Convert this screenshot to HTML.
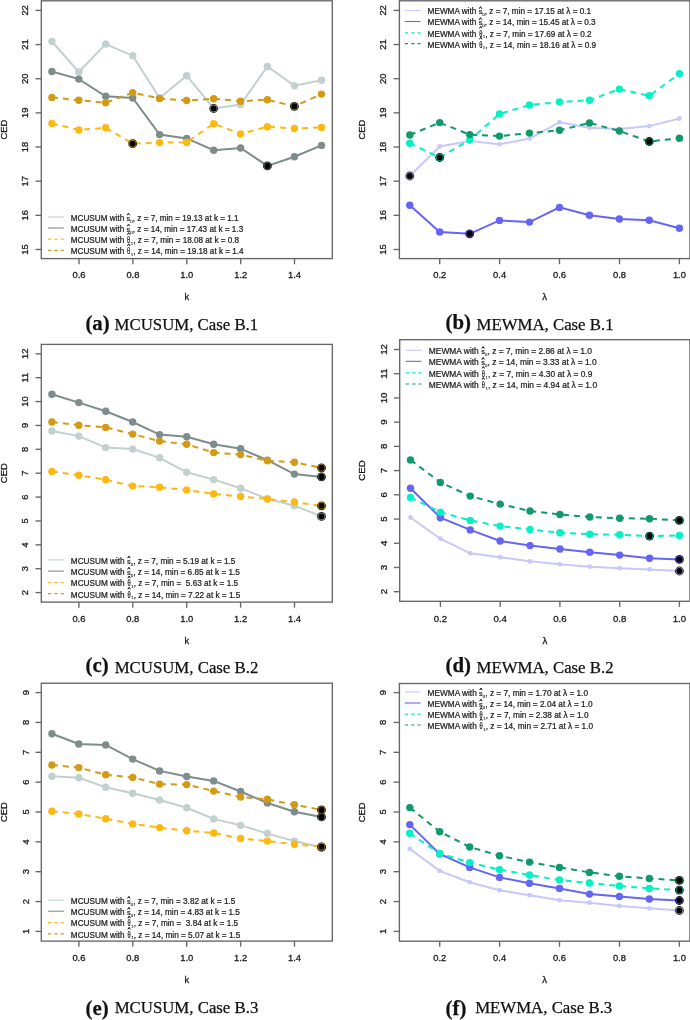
<!DOCTYPE html>
<html><head><meta charset="utf-8"><style>
html,body{margin:0;padding:0;background:#fff;}
svg{display:block;will-change:transform;filter:blur(0.3px);}
.t{font-family:"Liberation Sans",sans-serif;font-size:9.4px;fill:#1a1a1a;stroke:#1a1a1a;stroke-width:0.3px;}
.l{font-family:"Liberation Sans",sans-serif;font-size:8.27px;fill:#1a1a1a;stroke:#1a1a1a;stroke-width:0.22px;}
.c{font-family:"Liberation Serif",serif;font-size:16.8px;fill:#111;stroke:#111;stroke-width:0.25px;}
</style></head><body>
<svg width="690" height="1020" viewBox="0 0 690 1020">
<rect width="690" height="1020" fill="#fff"/>
<polyline points="51.9,41.5 78.8,72 105.7,44.1 132.7,55.7 159.6,98 186.7,75.7 213.7,108.5 240.6,104.6 267.4,66.5 294.4,85.7 321.5,80.2" fill="none" stroke="#c2d0d0" stroke-width="2"/>
<circle cx="51.9" cy="41.5" r="3.7" fill="#c2d0d0"/>
<circle cx="78.8" cy="72" r="3.7" fill="#c2d0d0"/>
<circle cx="105.7" cy="44.1" r="3.7" fill="#c2d0d0"/>
<circle cx="132.7" cy="55.7" r="3.7" fill="#c2d0d0"/>
<circle cx="159.6" cy="98" r="3.7" fill="#c2d0d0"/>
<circle cx="186.7" cy="75.7" r="3.7" fill="#c2d0d0"/>
<circle cx="213.7" cy="108.5" r="3.7" fill="#c2d0d0"/>
<circle cx="240.6" cy="104.6" r="3.7" fill="#c2d0d0"/>
<circle cx="267.4" cy="66.5" r="3.7" fill="#c2d0d0"/>
<circle cx="294.4" cy="85.7" r="3.7" fill="#c2d0d0"/>
<circle cx="321.5" cy="80.2" r="3.7" fill="#c2d0d0"/>
<polyline points="51.9,71.5 78.8,79.1 105.7,96.3 132.7,98 159.6,134.6 186.7,138.4 213.7,150.2 240.6,148 267.4,165.9 294.4,156.7 321.5,145.4" fill="none" stroke="#7e8c8c" stroke-width="2"/>
<circle cx="51.9" cy="71.5" r="3.7" fill="#7e8c8c"/>
<circle cx="78.8" cy="79.1" r="3.7" fill="#7e8c8c"/>
<circle cx="105.7" cy="96.3" r="3.7" fill="#7e8c8c"/>
<circle cx="132.7" cy="98" r="3.7" fill="#7e8c8c"/>
<circle cx="159.6" cy="134.6" r="3.7" fill="#7e8c8c"/>
<circle cx="186.7" cy="138.4" r="3.7" fill="#7e8c8c"/>
<circle cx="213.7" cy="150.2" r="3.7" fill="#7e8c8c"/>
<circle cx="240.6" cy="148" r="3.7" fill="#7e8c8c"/>
<circle cx="267.4" cy="165.9" r="3.7" fill="#7e8c8c"/>
<circle cx="294.4" cy="156.7" r="3.7" fill="#7e8c8c"/>
<circle cx="321.5" cy="145.4" r="3.7" fill="#7e8c8c"/>
<polyline points="51.9,123.5 78.8,130 105.7,127.8 132.7,143.7 159.6,142.6 186.7,142.4 213.7,123.7 240.6,133.9 267.4,126.7 294.4,128.5 321.5,127.4" fill="none" stroke="#fcb813" stroke-width="2" stroke-dasharray="6 5"/>
<circle cx="51.9" cy="123.5" r="3.7" fill="#fcb813"/>
<circle cx="78.8" cy="130" r="3.7" fill="#fcb813"/>
<circle cx="105.7" cy="127.8" r="3.7" fill="#fcb813"/>
<circle cx="132.7" cy="143.7" r="3.7" fill="#fcb813"/>
<circle cx="159.6" cy="142.6" r="3.7" fill="#fcb813"/>
<circle cx="186.7" cy="142.4" r="3.7" fill="#fcb813"/>
<circle cx="213.7" cy="123.7" r="3.7" fill="#fcb813"/>
<circle cx="240.6" cy="133.9" r="3.7" fill="#fcb813"/>
<circle cx="267.4" cy="126.7" r="3.7" fill="#fcb813"/>
<circle cx="294.4" cy="128.5" r="3.7" fill="#fcb813"/>
<circle cx="321.5" cy="127.4" r="3.7" fill="#fcb813"/>
<polyline points="51.9,97.4 78.8,100.2 105.7,102.8 132.7,92.6 159.6,98.5 186.7,100.5 213.7,98.7 240.6,101.3 267.4,99.8 294.4,106.3 321.5,94.1" fill="none" stroke="#d39b15" stroke-width="2" stroke-dasharray="6 5"/>
<circle cx="51.9" cy="97.4" r="3.7" fill="#d39b15"/>
<circle cx="78.8" cy="100.2" r="3.7" fill="#d39b15"/>
<circle cx="105.7" cy="102.8" r="3.7" fill="#d39b15"/>
<circle cx="132.7" cy="92.6" r="3.7" fill="#d39b15"/>
<circle cx="159.6" cy="98.5" r="3.7" fill="#d39b15"/>
<circle cx="186.7" cy="100.5" r="3.7" fill="#d39b15"/>
<circle cx="213.7" cy="98.7" r="3.7" fill="#d39b15"/>
<circle cx="240.6" cy="101.3" r="3.7" fill="#d39b15"/>
<circle cx="267.4" cy="99.8" r="3.7" fill="#d39b15"/>
<circle cx="294.4" cy="106.3" r="3.7" fill="#d39b15"/>
<circle cx="321.5" cy="94.1" r="3.7" fill="#d39b15"/>
<circle cx="213.7" cy="108.5" r="4.4" fill="#111"/><circle cx="213.7" cy="108.5" r="3.7" fill="#c2d0d0" fill-opacity="0.75"/><circle cx="213.7" cy="108.5" r="3.0" fill="#000"/>
<circle cx="267.4" cy="165.9" r="4.4" fill="#111"/><circle cx="267.4" cy="165.9" r="3.7" fill="#7e8c8c" fill-opacity="0.75"/><circle cx="267.4" cy="165.9" r="3.0" fill="#000"/>
<circle cx="132.7" cy="143.7" r="4.4" fill="#111"/><circle cx="132.7" cy="143.7" r="3.7" fill="#fcb813" fill-opacity="0.75"/><circle cx="132.7" cy="143.7" r="3.0" fill="#000"/>
<circle cx="294.4" cy="106.3" r="4.4" fill="#111"/><circle cx="294.4" cy="106.3" r="3.7" fill="#d39b15" fill-opacity="0.75"/><circle cx="294.4" cy="106.3" r="3.0" fill="#000"/>
<rect x="41.3" y="0.8" width="291" height="257.8" fill="none" stroke="#666" stroke-width="1.35"/>
<line x1="79" y1="258.6" x2="79" y2="264.2" stroke="#666" stroke-width="1.35"/>
<text x="79" y="278" class="t" text-anchor="middle">0.6</text>
<line x1="132.9" y1="258.6" x2="132.9" y2="264.2" stroke="#666" stroke-width="1.35"/>
<text x="132.9" y="278" class="t" text-anchor="middle">0.8</text>
<line x1="186.8" y1="258.6" x2="186.8" y2="264.2" stroke="#666" stroke-width="1.35"/>
<text x="186.8" y="278" class="t" text-anchor="middle">1.0</text>
<line x1="240.7" y1="258.6" x2="240.7" y2="264.2" stroke="#666" stroke-width="1.35"/>
<text x="240.7" y="278" class="t" text-anchor="middle">1.2</text>
<line x1="294.5" y1="258.6" x2="294.5" y2="264.2" stroke="#666" stroke-width="1.35"/>
<text x="294.5" y="278" class="t" text-anchor="middle">1.4</text>
<line x1="35.5" y1="249.5" x2="41.3" y2="249.5" stroke="#666" stroke-width="1.35"/>
<text transform="translate(28,249.5) rotate(-90)" class="t" text-anchor="middle">15</text>
<line x1="35.5" y1="215.34" x2="41.3" y2="215.34" stroke="#666" stroke-width="1.35"/>
<text transform="translate(28,215.34) rotate(-90)" class="t" text-anchor="middle">16</text>
<line x1="35.5" y1="181.18" x2="41.3" y2="181.18" stroke="#666" stroke-width="1.35"/>
<text transform="translate(28,181.18) rotate(-90)" class="t" text-anchor="middle">17</text>
<line x1="35.5" y1="147.03" x2="41.3" y2="147.03" stroke="#666" stroke-width="1.35"/>
<text transform="translate(28,147.03) rotate(-90)" class="t" text-anchor="middle">18</text>
<line x1="35.5" y1="112.87" x2="41.3" y2="112.87" stroke="#666" stroke-width="1.35"/>
<text transform="translate(28,112.87) rotate(-90)" class="t" text-anchor="middle">19</text>
<line x1="35.5" y1="78.71" x2="41.3" y2="78.71" stroke="#666" stroke-width="1.35"/>
<text transform="translate(28,78.71) rotate(-90)" class="t" text-anchor="middle">20</text>
<line x1="35.5" y1="44.56" x2="41.3" y2="44.56" stroke="#666" stroke-width="1.35"/>
<text transform="translate(28,44.56) rotate(-90)" class="t" text-anchor="middle">21</text>
<line x1="35.5" y1="10.4" x2="41.3" y2="10.4" stroke="#666" stroke-width="1.35"/>
<text transform="translate(28,10.4) rotate(-90)" class="t" text-anchor="middle">22</text>
<text x="186.8" y="300.3" class="t" text-anchor="middle">k</text>
<text transform="translate(6.9,129.7) rotate(-90)" class="t" text-anchor="middle">CED</text>
<line x1="48" y1="217" x2="63.8" y2="217" stroke="#c2d0d0" stroke-width="1.1"/>
<text x="70.8" y="220.8" class="l" style="font-size:8.17px">MCUSUM with <tspan dx="3.79" dy="1.8" style="font-size:4.4px;stroke-width:0.1px">0</tspan><tspan dy="-1.8">, z = 7, min = 19.13 at k = 1.1</tspan></text>
<text transform="translate(126.62,220.8) scale(1.0,1)" class="l" style="font-size:7.4px">s</text>
<path d="M127.22 215.28L128.47 213.18L129.72 215.28" fill="none" stroke="#000" stroke-width="0.95"/>
<line x1="48" y1="228" x2="63.8" y2="228" stroke="#7e8c8c" stroke-width="1.1"/>
<text x="70.8" y="231.8" class="l" style="font-size:8.17px">MCUSUM with <tspan dx="3.79" dy="1.8" style="font-size:4.4px;stroke-width:0.1px">0</tspan><tspan dy="-1.8">, z = 14, min = 17.43 at k = 1.3</tspan></text>
<text transform="translate(126.62,231.8) scale(1.0,1)" class="l" style="font-size:7.4px">s</text>
<path d="M127.22 226.28L128.47 224.18L129.72 226.28" fill="none" stroke="#000" stroke-width="0.95"/>
<line x1="48" y1="239.1" x2="63.8" y2="239.1" stroke="#fcb813" stroke-width="1.2" stroke-dasharray="3.3 3.1"/>
<text x="70.8" y="242.9" class="l" style="font-size:8.17px">MCUSUM with <tspan dx="4.24" dy="1.8" style="font-size:4.4px;stroke-width:0.1px">1</tspan><tspan dy="-1.8">, z = 7, min = 18.08 at k = 0.8</tspan></text>
<text transform="translate(127.12,242.9) scale(0.66,1)" class="l" style="font-size:8.6px">θ</text>
<path d="M127.45 234.71L128.7 232.61L129.95 234.71" fill="none" stroke="#000" stroke-width="0.95"/>
<line x1="48" y1="250.3" x2="63.8" y2="250.3" stroke="#d39b15" stroke-width="1.2" stroke-dasharray="3.3 3.1"/>
<text x="70.8" y="254.1" class="l" style="font-size:8.17px">MCUSUM with <tspan dx="4.24" dy="1.8" style="font-size:4.4px;stroke-width:0.1px">1</tspan><tspan dy="-1.8">, z = 14, min = 19.18 at k = 1.4</tspan></text>
<text transform="translate(127.12,254.1) scale(0.66,1)" class="l" style="font-size:8.6px">θ</text>
<path d="M127.45 245.91L128.7 243.81L129.95 245.91" fill="none" stroke="#000" stroke-width="0.95"/>
<text x="85.4" y="329.5" class="c" style="font-weight:bold;font-size:20.8px">(a)</text>
<text x="114.6" y="330.3" class="c">MCUSUM, Case B.1</text>
<polyline points="409.8,176 439.7,146.5 469.7,141.1 499.5,144.3 529.5,138.6 559.5,122.2 589.5,127.8 619.4,129.1 649.3,126.1 679.4,118.5" fill="none" stroke="#c8c8fa" stroke-width="2"/>
<circle cx="409.8" cy="176" r="2.4" fill="#c8c8fa"/>
<circle cx="439.7" cy="146.5" r="2.4" fill="#c8c8fa"/>
<circle cx="469.7" cy="141.1" r="2.4" fill="#c8c8fa"/>
<circle cx="499.5" cy="144.3" r="2.4" fill="#c8c8fa"/>
<circle cx="529.5" cy="138.6" r="2.4" fill="#c8c8fa"/>
<circle cx="559.5" cy="122.2" r="2.4" fill="#c8c8fa"/>
<circle cx="589.5" cy="127.8" r="2.4" fill="#c8c8fa"/>
<circle cx="619.4" cy="129.1" r="2.4" fill="#c8c8fa"/>
<circle cx="649.3" cy="126.1" r="2.4" fill="#c8c8fa"/>
<circle cx="679.4" cy="118.5" r="2.4" fill="#c8c8fa"/>
<polyline points="409.8,205.3 439.7,232 469.7,233.8 499.5,220.4 529.5,222.1 559.5,207.4 589.5,215.3 619.4,219 649.3,220.2 679.4,228.3" fill="none" stroke="#6464f5" stroke-width="2"/>
<circle cx="409.8" cy="205.3" r="3.7" fill="#6464f5"/>
<circle cx="439.7" cy="232" r="3.7" fill="#6464f5"/>
<circle cx="469.7" cy="233.8" r="3.7" fill="#6464f5"/>
<circle cx="499.5" cy="220.4" r="3.7" fill="#6464f5"/>
<circle cx="529.5" cy="222.1" r="3.7" fill="#6464f5"/>
<circle cx="559.5" cy="207.4" r="3.7" fill="#6464f5"/>
<circle cx="589.5" cy="215.3" r="3.7" fill="#6464f5"/>
<circle cx="619.4" cy="219" r="3.7" fill="#6464f5"/>
<circle cx="649.3" cy="220.2" r="3.7" fill="#6464f5"/>
<circle cx="679.4" cy="228.3" r="3.7" fill="#6464f5"/>
<polyline points="409.8,143.3 439.7,157.5 469.7,140 499.5,113.9 529.5,105 559.5,102 589.5,100.2 619.4,89.1 649.3,95.8 679.4,73.6" fill="none" stroke="#05f0c5" stroke-width="2" stroke-dasharray="6 5"/>
<circle cx="409.8" cy="143.3" r="3.7" fill="#05f0c5"/>
<circle cx="439.7" cy="157.5" r="3.7" fill="#05f0c5"/>
<circle cx="469.7" cy="140" r="3.7" fill="#05f0c5"/>
<circle cx="499.5" cy="113.9" r="3.7" fill="#05f0c5"/>
<circle cx="529.5" cy="105" r="3.7" fill="#05f0c5"/>
<circle cx="559.5" cy="102" r="3.7" fill="#05f0c5"/>
<circle cx="589.5" cy="100.2" r="3.7" fill="#05f0c5"/>
<circle cx="619.4" cy="89.1" r="3.7" fill="#05f0c5"/>
<circle cx="649.3" cy="95.8" r="3.7" fill="#05f0c5"/>
<circle cx="679.4" cy="73.6" r="3.7" fill="#05f0c5"/>
<polyline points="409.8,135 439.7,122.6 469.7,134.6 499.5,136.1 529.5,133.1 559.5,130.3 589.5,122.9 619.4,131 649.3,141.5 679.4,138.2" fill="none" stroke="#12996a" stroke-width="2" stroke-dasharray="6 5"/>
<circle cx="409.8" cy="135" r="3.7" fill="#12996a"/>
<circle cx="439.7" cy="122.6" r="3.7" fill="#12996a"/>
<circle cx="469.7" cy="134.6" r="3.7" fill="#12996a"/>
<circle cx="499.5" cy="136.1" r="3.7" fill="#12996a"/>
<circle cx="529.5" cy="133.1" r="3.7" fill="#12996a"/>
<circle cx="559.5" cy="130.3" r="3.7" fill="#12996a"/>
<circle cx="589.5" cy="122.9" r="3.7" fill="#12996a"/>
<circle cx="619.4" cy="131" r="3.7" fill="#12996a"/>
<circle cx="649.3" cy="141.5" r="3.7" fill="#12996a"/>
<circle cx="679.4" cy="138.2" r="3.7" fill="#12996a"/>
<circle cx="409.8" cy="176" r="4.4" fill="#111"/><circle cx="409.8" cy="176" r="3.7" fill="#c8c8fa" fill-opacity="0.75"/><circle cx="409.8" cy="176" r="3.0" fill="#000"/>
<circle cx="469.7" cy="233.8" r="4.4" fill="#111"/><circle cx="469.7" cy="233.8" r="3.7" fill="#6464f5" fill-opacity="0.75"/><circle cx="469.7" cy="233.8" r="3.0" fill="#000"/>
<circle cx="439.7" cy="157.5" r="4.4" fill="#111"/><circle cx="439.7" cy="157.5" r="3.7" fill="#05f0c5" fill-opacity="0.75"/><circle cx="439.7" cy="157.5" r="3.0" fill="#000"/>
<circle cx="649.3" cy="141.5" r="4.4" fill="#111"/><circle cx="649.3" cy="141.5" r="3.7" fill="#12996a" fill-opacity="0.75"/><circle cx="649.3" cy="141.5" r="3.0" fill="#000"/>
<rect x="399.4" y="0.8" width="290.5" height="257.8" fill="none" stroke="#666" stroke-width="1.35"/>
<line x1="439.7" y1="258.6" x2="439.7" y2="264.2" stroke="#666" stroke-width="1.35"/>
<text x="439.7" y="278" class="t" text-anchor="middle">0.2</text>
<line x1="499.6" y1="258.6" x2="499.6" y2="264.2" stroke="#666" stroke-width="1.35"/>
<text x="499.6" y="278" class="t" text-anchor="middle">0.4</text>
<line x1="559.5" y1="258.6" x2="559.5" y2="264.2" stroke="#666" stroke-width="1.35"/>
<text x="559.5" y="278" class="t" text-anchor="middle">0.6</text>
<line x1="619.5" y1="258.6" x2="619.5" y2="264.2" stroke="#666" stroke-width="1.35"/>
<text x="619.5" y="278" class="t" text-anchor="middle">0.8</text>
<line x1="679.4" y1="258.6" x2="679.4" y2="264.2" stroke="#666" stroke-width="1.35"/>
<text x="679.4" y="278" class="t" text-anchor="middle">1.0</text>
<line x1="393.6" y1="249.5" x2="399.4" y2="249.5" stroke="#666" stroke-width="1.35"/>
<text transform="translate(386,249.5) rotate(-90)" class="t" text-anchor="middle">15</text>
<line x1="393.6" y1="215.34" x2="399.4" y2="215.34" stroke="#666" stroke-width="1.35"/>
<text transform="translate(386,215.34) rotate(-90)" class="t" text-anchor="middle">16</text>
<line x1="393.6" y1="181.18" x2="399.4" y2="181.18" stroke="#666" stroke-width="1.35"/>
<text transform="translate(386,181.18) rotate(-90)" class="t" text-anchor="middle">17</text>
<line x1="393.6" y1="147.03" x2="399.4" y2="147.03" stroke="#666" stroke-width="1.35"/>
<text transform="translate(386,147.03) rotate(-90)" class="t" text-anchor="middle">18</text>
<line x1="393.6" y1="112.87" x2="399.4" y2="112.87" stroke="#666" stroke-width="1.35"/>
<text transform="translate(386,112.87) rotate(-90)" class="t" text-anchor="middle">19</text>
<line x1="393.6" y1="78.71" x2="399.4" y2="78.71" stroke="#666" stroke-width="1.35"/>
<text transform="translate(386,78.71) rotate(-90)" class="t" text-anchor="middle">20</text>
<line x1="393.6" y1="44.56" x2="399.4" y2="44.56" stroke="#666" stroke-width="1.35"/>
<text transform="translate(386,44.56) rotate(-90)" class="t" text-anchor="middle">21</text>
<line x1="393.6" y1="10.4" x2="399.4" y2="10.4" stroke="#666" stroke-width="1.35"/>
<text transform="translate(386,10.4) rotate(-90)" class="t" text-anchor="middle">22</text>
<text x="544.65" y="300.3" class="t" text-anchor="middle">λ</text>
<text transform="translate(364.5,129.7) rotate(-90)" class="t" text-anchor="middle">CED</text>
<line x1="404.8" y1="10.5" x2="420.6" y2="10.5" stroke="#c8c8fa" stroke-width="1.1"/>
<text x="427.6" y="14.3" class="l" style="font-size:8.2px">MEWMA with <tspan dx="3.8" dy="1.8" style="font-size:4.4px;stroke-width:0.1px">0</tspan><tspan dy="-1.8">, z = 7, min = 17.15 at λ = 0.1</tspan></text>
<text transform="translate(478.63,14.3) scale(1.0,1)" class="l" style="font-size:7.4px">s</text>
<path d="M479.23 8.78L480.48 6.68L481.73 8.78" fill="none" stroke="#000" stroke-width="0.95"/>
<line x1="404.8" y1="21.5" x2="420.6" y2="21.5" stroke="#6464f5" stroke-width="1.1"/>
<text x="427.6" y="25.3" class="l" style="font-size:8.2px">MEWMA with <tspan dx="3.8" dy="1.8" style="font-size:4.4px;stroke-width:0.1px">0</tspan><tspan dy="-1.8">, z = 14, min = 15.45 at λ = 0.3</tspan></text>
<text transform="translate(478.63,25.3) scale(1.0,1)" class="l" style="font-size:7.4px">s</text>
<path d="M479.23 19.78L480.48 17.68L481.73 19.78" fill="none" stroke="#000" stroke-width="0.95"/>
<line x1="404.8" y1="32.8" x2="420.6" y2="32.8" stroke="#05f0c5" stroke-width="1.2" stroke-dasharray="3.3 3.1"/>
<text x="427.6" y="36.6" class="l" style="font-size:8.2px">MEWMA with <tspan dx="4.26" dy="1.8" style="font-size:4.4px;stroke-width:0.1px">1</tspan><tspan dy="-1.8">, z = 7, min = 17.69 at λ = 0.2</tspan></text>
<text transform="translate(479.13,36.6) scale(0.66,1)" class="l" style="font-size:8.6px">θ</text>
<path d="M479.46 28.41L480.71 26.31L481.96 28.41" fill="none" stroke="#000" stroke-width="0.95"/>
<line x1="404.8" y1="43.7" x2="420.6" y2="43.7" stroke="#12996a" stroke-width="1.2" stroke-dasharray="3.3 3.1"/>
<text x="427.6" y="47.5" class="l" style="font-size:8.2px">MEWMA with <tspan dx="4.26" dy="1.8" style="font-size:4.4px;stroke-width:0.1px">1</tspan><tspan dy="-1.8">, z = 14, min = 18.16 at λ = 0.9</tspan></text>
<text transform="translate(479.13,47.5) scale(0.66,1)" class="l" style="font-size:8.6px">θ</text>
<path d="M479.46 39.31L480.71 37.21L481.96 39.31" fill="none" stroke="#000" stroke-width="0.95"/>
<text x="445.6" y="329.4" class="c" style="font-weight:bold;font-size:20.8px">(b)</text>
<text x="476.5" y="330.1" class="c">MEWMA, Case B.1</text>
<polyline points="51.9,430.9 78.8,436.1 105.7,447.6 132.7,449.1 159.6,457.8 186.7,472.2 213.7,479.6 240.6,488.3 267.4,498.7 294.4,505.7 321.5,516.4" fill="none" stroke="#c2d0d0" stroke-width="2"/>
<circle cx="51.9" cy="430.9" r="3.7" fill="#c2d0d0"/>
<circle cx="78.8" cy="436.1" r="3.7" fill="#c2d0d0"/>
<circle cx="105.7" cy="447.6" r="3.7" fill="#c2d0d0"/>
<circle cx="132.7" cy="449.1" r="3.7" fill="#c2d0d0"/>
<circle cx="159.6" cy="457.8" r="3.7" fill="#c2d0d0"/>
<circle cx="186.7" cy="472.2" r="3.7" fill="#c2d0d0"/>
<circle cx="213.7" cy="479.6" r="3.7" fill="#c2d0d0"/>
<circle cx="240.6" cy="488.3" r="3.7" fill="#c2d0d0"/>
<circle cx="267.4" cy="498.7" r="3.7" fill="#c2d0d0"/>
<circle cx="294.4" cy="505.7" r="3.7" fill="#c2d0d0"/>
<circle cx="321.5" cy="516.4" r="3.7" fill="#c2d0d0"/>
<polyline points="51.9,394.3 78.8,402.6 105.7,411.3 132.7,422 159.6,434.6 186.7,436.7 213.7,444.3 240.6,448.7 267.4,460.2 294.4,474.1 321.5,476.9" fill="none" stroke="#7e8c8c" stroke-width="2"/>
<circle cx="51.9" cy="394.3" r="3.7" fill="#7e8c8c"/>
<circle cx="78.8" cy="402.6" r="3.7" fill="#7e8c8c"/>
<circle cx="105.7" cy="411.3" r="3.7" fill="#7e8c8c"/>
<circle cx="132.7" cy="422" r="3.7" fill="#7e8c8c"/>
<circle cx="159.6" cy="434.6" r="3.7" fill="#7e8c8c"/>
<circle cx="186.7" cy="436.7" r="3.7" fill="#7e8c8c"/>
<circle cx="213.7" cy="444.3" r="3.7" fill="#7e8c8c"/>
<circle cx="240.6" cy="448.7" r="3.7" fill="#7e8c8c"/>
<circle cx="267.4" cy="460.2" r="3.7" fill="#7e8c8c"/>
<circle cx="294.4" cy="474.1" r="3.7" fill="#7e8c8c"/>
<circle cx="321.5" cy="476.9" r="3.7" fill="#7e8c8c"/>
<polyline points="51.9,471.5 78.8,475.2 105.7,479.8 132.7,486.1 159.6,487.2 186.7,490 213.7,493.9 240.6,496.5 267.4,499.1 294.4,502 321.5,505.8" fill="none" stroke="#fcb813" stroke-width="2" stroke-dasharray="6 5"/>
<circle cx="51.9" cy="471.5" r="3.7" fill="#fcb813"/>
<circle cx="78.8" cy="475.2" r="3.7" fill="#fcb813"/>
<circle cx="105.7" cy="479.8" r="3.7" fill="#fcb813"/>
<circle cx="132.7" cy="486.1" r="3.7" fill="#fcb813"/>
<circle cx="159.6" cy="487.2" r="3.7" fill="#fcb813"/>
<circle cx="186.7" cy="490" r="3.7" fill="#fcb813"/>
<circle cx="213.7" cy="493.9" r="3.7" fill="#fcb813"/>
<circle cx="240.6" cy="496.5" r="3.7" fill="#fcb813"/>
<circle cx="267.4" cy="499.1" r="3.7" fill="#fcb813"/>
<circle cx="294.4" cy="502" r="3.7" fill="#fcb813"/>
<circle cx="321.5" cy="505.8" r="3.7" fill="#fcb813"/>
<polyline points="51.9,422 78.8,425.2 105.7,427.4 132.7,434.1 159.6,441.1 186.7,444.3 213.7,452.6 240.6,454.6 267.4,460.7 294.4,462.2 321.5,467.8" fill="none" stroke="#d39b15" stroke-width="2" stroke-dasharray="6 5"/>
<circle cx="51.9" cy="422" r="3.7" fill="#d39b15"/>
<circle cx="78.8" cy="425.2" r="3.7" fill="#d39b15"/>
<circle cx="105.7" cy="427.4" r="3.7" fill="#d39b15"/>
<circle cx="132.7" cy="434.1" r="3.7" fill="#d39b15"/>
<circle cx="159.6" cy="441.1" r="3.7" fill="#d39b15"/>
<circle cx="186.7" cy="444.3" r="3.7" fill="#d39b15"/>
<circle cx="213.7" cy="452.6" r="3.7" fill="#d39b15"/>
<circle cx="240.6" cy="454.6" r="3.7" fill="#d39b15"/>
<circle cx="267.4" cy="460.7" r="3.7" fill="#d39b15"/>
<circle cx="294.4" cy="462.2" r="3.7" fill="#d39b15"/>
<circle cx="321.5" cy="467.8" r="3.7" fill="#d39b15"/>
<circle cx="321.5" cy="516.4" r="4.4" fill="#111"/><circle cx="321.5" cy="516.4" r="3.7" fill="#c2d0d0" fill-opacity="0.75"/><circle cx="321.5" cy="516.4" r="3.0" fill="#000"/>
<circle cx="321.5" cy="476.9" r="4.4" fill="#111"/><circle cx="321.5" cy="476.9" r="3.7" fill="#7e8c8c" fill-opacity="0.75"/><circle cx="321.5" cy="476.9" r="3.0" fill="#000"/>
<circle cx="321.5" cy="505.8" r="4.4" fill="#111"/><circle cx="321.5" cy="505.8" r="3.7" fill="#fcb813" fill-opacity="0.75"/><circle cx="321.5" cy="505.8" r="3.0" fill="#000"/>
<circle cx="321.5" cy="467.8" r="4.4" fill="#111"/><circle cx="321.5" cy="467.8" r="3.7" fill="#d39b15" fill-opacity="0.75"/><circle cx="321.5" cy="467.8" r="3.0" fill="#000"/>
<rect x="41.3" y="344.4" width="291" height="257.7" fill="none" stroke="#666" stroke-width="1.35"/>
<line x1="78.9" y1="602.1" x2="78.9" y2="607.7" stroke="#666" stroke-width="1.35"/>
<text x="78.9" y="622.2" class="t" text-anchor="middle">0.6</text>
<line x1="132.8" y1="602.1" x2="132.8" y2="607.7" stroke="#666" stroke-width="1.35"/>
<text x="132.8" y="622.2" class="t" text-anchor="middle">0.8</text>
<line x1="186.7" y1="602.1" x2="186.7" y2="607.7" stroke="#666" stroke-width="1.35"/>
<text x="186.7" y="622.2" class="t" text-anchor="middle">1.0</text>
<line x1="240.6" y1="602.1" x2="240.6" y2="607.7" stroke="#666" stroke-width="1.35"/>
<text x="240.6" y="622.2" class="t" text-anchor="middle">1.2</text>
<line x1="294.5" y1="602.1" x2="294.5" y2="607.7" stroke="#666" stroke-width="1.35"/>
<text x="294.5" y="622.2" class="t" text-anchor="middle">1.4</text>
<line x1="35.5" y1="592.6" x2="41.3" y2="592.6" stroke="#666" stroke-width="1.35"/>
<text transform="translate(28.2,592.6) rotate(-90)" class="t" text-anchor="middle">2</text>
<line x1="35.5" y1="568.72" x2="41.3" y2="568.72" stroke="#666" stroke-width="1.35"/>
<text transform="translate(28.2,568.72) rotate(-90)" class="t" text-anchor="middle">3</text>
<line x1="35.5" y1="544.84" x2="41.3" y2="544.84" stroke="#666" stroke-width="1.35"/>
<text transform="translate(28.2,544.84) rotate(-90)" class="t" text-anchor="middle">4</text>
<line x1="35.5" y1="520.96" x2="41.3" y2="520.96" stroke="#666" stroke-width="1.35"/>
<text transform="translate(28.2,520.96) rotate(-90)" class="t" text-anchor="middle">5</text>
<line x1="35.5" y1="497.08" x2="41.3" y2="497.08" stroke="#666" stroke-width="1.35"/>
<text transform="translate(28.2,497.08) rotate(-90)" class="t" text-anchor="middle">6</text>
<line x1="35.5" y1="473.2" x2="41.3" y2="473.2" stroke="#666" stroke-width="1.35"/>
<text transform="translate(28.2,473.2) rotate(-90)" class="t" text-anchor="middle">7</text>
<line x1="35.5" y1="449.32" x2="41.3" y2="449.32" stroke="#666" stroke-width="1.35"/>
<text transform="translate(28.2,449.32) rotate(-90)" class="t" text-anchor="middle">8</text>
<line x1="35.5" y1="425.44" x2="41.3" y2="425.44" stroke="#666" stroke-width="1.35"/>
<text transform="translate(28.2,425.44) rotate(-90)" class="t" text-anchor="middle">9</text>
<line x1="35.5" y1="401.56" x2="41.3" y2="401.56" stroke="#666" stroke-width="1.35"/>
<text transform="translate(28.2,401.56) rotate(-90)" class="t" text-anchor="middle">10</text>
<line x1="35.5" y1="377.68" x2="41.3" y2="377.68" stroke="#666" stroke-width="1.35"/>
<text transform="translate(28.2,377.68) rotate(-90)" class="t" text-anchor="middle">11</text>
<line x1="35.5" y1="353.8" x2="41.3" y2="353.8" stroke="#666" stroke-width="1.35"/>
<text transform="translate(28.2,353.8) rotate(-90)" class="t" text-anchor="middle">12</text>
<text x="186.8" y="643.8" class="t" text-anchor="middle">k</text>
<text transform="translate(6.9,473.25) rotate(-90)" class="t" text-anchor="middle">CED</text>
<line x1="48" y1="559.9" x2="63.8" y2="559.9" stroke="#c2d0d0" stroke-width="1.1"/>
<text x="70.8" y="563.7" class="l" style="font-size:8.23px">MCUSUM with <tspan dx="3.82" dy="1.8" style="font-size:4.4px;stroke-width:0.1px">0</tspan><tspan dy="-1.8">, z = 7, min = 5.19 at k = 1.5</tspan></text>
<text transform="translate(127.05,563.7) scale(1.0,1)" class="l" style="font-size:7.4px">s</text>
<path d="M127.65 558.18L128.9 556.08L130.15 558.18" fill="none" stroke="#000" stroke-width="0.95"/>
<line x1="48" y1="571.1" x2="63.8" y2="571.1" stroke="#7e8c8c" stroke-width="1.1"/>
<text x="70.8" y="574.9" class="l" style="font-size:8.23px">MCUSUM with <tspan dx="3.82" dy="1.8" style="font-size:4.4px;stroke-width:0.1px">0</tspan><tspan dy="-1.8">, z = 14, min = 6.85 at k = 1.5</tspan></text>
<text transform="translate(127.05,574.9) scale(1.0,1)" class="l" style="font-size:7.4px">s</text>
<path d="M127.65 569.38L128.9 567.28L130.15 569.38" fill="none" stroke="#000" stroke-width="0.95"/>
<line x1="48" y1="582.5" x2="63.8" y2="582.5" stroke="#fcb813" stroke-width="1.2" stroke-dasharray="3.3 3.1"/>
<text x="70.8" y="586.3" class="l" style="font-size:8.23px">MCUSUM with <tspan dx="4.28" dy="1.8" style="font-size:4.4px;stroke-width:0.1px">1</tspan><tspan dy="-1.8">, z = 7, min = &#160;5.63 at k = 1.5</tspan></text>
<text transform="translate(127.55,586.3) scale(0.66,1)" class="l" style="font-size:8.6px">θ</text>
<path d="M127.88 578.11L129.13 576.01L130.38 578.11" fill="none" stroke="#000" stroke-width="0.95"/>
<line x1="48" y1="593.7" x2="63.8" y2="593.7" stroke="#d39b15" stroke-width="1.2" stroke-dasharray="3.3 3.1"/>
<text x="70.8" y="597.5" class="l" style="font-size:8.23px">MCUSUM with <tspan dx="4.28" dy="1.8" style="font-size:4.4px;stroke-width:0.1px">1</tspan><tspan dy="-1.8">, z = 14, min = 7.22 at k = 1.5</tspan></text>
<text transform="translate(127.55,597.5) scale(0.66,1)" class="l" style="font-size:8.6px">θ</text>
<path d="M127.88 589.31L129.13 587.21L130.38 589.31" fill="none" stroke="#000" stroke-width="0.95"/>
<text x="85.6" y="671.8" class="c" style="font-weight:bold;font-size:20.8px">(c)</text>
<text x="114.7" y="673.3" class="c">MCUSUM, Case B.2</text>
<polyline points="410.5,517.5 440.38,538.7 470.26,553.3 500.14,557.2 530.02,561.3 559.9,564.3 589.78,566.7 619.66,568.2 649.54,569.4 679.42,571" fill="none" stroke="#c8c8fa" stroke-width="2"/>
<circle cx="410.5" cy="517.5" r="2.4" fill="#c8c8fa"/>
<circle cx="440.38" cy="538.7" r="2.4" fill="#c8c8fa"/>
<circle cx="470.26" cy="553.3" r="2.4" fill="#c8c8fa"/>
<circle cx="500.14" cy="557.2" r="2.4" fill="#c8c8fa"/>
<circle cx="530.02" cy="561.3" r="2.4" fill="#c8c8fa"/>
<circle cx="559.9" cy="564.3" r="2.4" fill="#c8c8fa"/>
<circle cx="589.78" cy="566.7" r="2.4" fill="#c8c8fa"/>
<circle cx="619.66" cy="568.2" r="2.4" fill="#c8c8fa"/>
<circle cx="649.54" cy="569.4" r="2.4" fill="#c8c8fa"/>
<circle cx="679.42" cy="571" r="2.4" fill="#c8c8fa"/>
<polyline points="410.5,488.3 440.38,517.7 470.26,529.9 500.14,541 530.02,545.6 559.9,549 589.78,552.2 619.66,555.1 649.54,558.3 679.42,559.4" fill="none" stroke="#6464f5" stroke-width="2"/>
<circle cx="410.5" cy="488.3" r="3.7" fill="#6464f5"/>
<circle cx="440.38" cy="517.7" r="3.7" fill="#6464f5"/>
<circle cx="470.26" cy="529.9" r="3.7" fill="#6464f5"/>
<circle cx="500.14" cy="541" r="3.7" fill="#6464f5"/>
<circle cx="530.02" cy="545.6" r="3.7" fill="#6464f5"/>
<circle cx="559.9" cy="549" r="3.7" fill="#6464f5"/>
<circle cx="589.78" cy="552.2" r="3.7" fill="#6464f5"/>
<circle cx="619.66" cy="555.1" r="3.7" fill="#6464f5"/>
<circle cx="649.54" cy="558.3" r="3.7" fill="#6464f5"/>
<circle cx="679.42" cy="559.4" r="3.7" fill="#6464f5"/>
<polyline points="410.5,497.4 440.38,512.2 470.26,520.4 500.14,526.1 530.02,529.5 559.9,532.7 589.78,534.2 619.66,534.7 649.54,536.1 679.42,535.4" fill="none" stroke="#05f0c5" stroke-width="2" stroke-dasharray="6 5"/>
<circle cx="410.5" cy="497.4" r="3.7" fill="#05f0c5"/>
<circle cx="440.38" cy="512.2" r="3.7" fill="#05f0c5"/>
<circle cx="470.26" cy="520.4" r="3.7" fill="#05f0c5"/>
<circle cx="500.14" cy="526.1" r="3.7" fill="#05f0c5"/>
<circle cx="530.02" cy="529.5" r="3.7" fill="#05f0c5"/>
<circle cx="559.9" cy="532.7" r="3.7" fill="#05f0c5"/>
<circle cx="589.78" cy="534.2" r="3.7" fill="#05f0c5"/>
<circle cx="619.66" cy="534.7" r="3.7" fill="#05f0c5"/>
<circle cx="649.54" cy="536.1" r="3.7" fill="#05f0c5"/>
<circle cx="679.42" cy="535.4" r="3.7" fill="#05f0c5"/>
<polyline points="410.5,460 440.38,482.4 470.26,496.1 500.14,504.1 530.02,511 559.9,514.5 589.78,517 619.66,518.2 649.54,518.7 679.42,520.4" fill="none" stroke="#12996a" stroke-width="2" stroke-dasharray="6 5"/>
<circle cx="410.5" cy="460" r="3.7" fill="#12996a"/>
<circle cx="440.38" cy="482.4" r="3.7" fill="#12996a"/>
<circle cx="470.26" cy="496.1" r="3.7" fill="#12996a"/>
<circle cx="500.14" cy="504.1" r="3.7" fill="#12996a"/>
<circle cx="530.02" cy="511" r="3.7" fill="#12996a"/>
<circle cx="559.9" cy="514.5" r="3.7" fill="#12996a"/>
<circle cx="589.78" cy="517" r="3.7" fill="#12996a"/>
<circle cx="619.66" cy="518.2" r="3.7" fill="#12996a"/>
<circle cx="649.54" cy="518.7" r="3.7" fill="#12996a"/>
<circle cx="679.42" cy="520.4" r="3.7" fill="#12996a"/>
<circle cx="679.42" cy="571" r="4.4" fill="#111"/><circle cx="679.42" cy="571" r="3.7" fill="#c8c8fa" fill-opacity="0.75"/><circle cx="679.42" cy="571" r="3.0" fill="#000"/>
<circle cx="679.42" cy="559.4" r="4.4" fill="#111"/><circle cx="679.42" cy="559.4" r="3.7" fill="#6464f5" fill-opacity="0.75"/><circle cx="679.42" cy="559.4" r="3.0" fill="#000"/>
<circle cx="649.54" cy="536.1" r="4.4" fill="#111"/><circle cx="649.54" cy="536.1" r="3.7" fill="#05f0c5" fill-opacity="0.75"/><circle cx="649.54" cy="536.1" r="3.0" fill="#000"/>
<circle cx="679.42" cy="520.4" r="4.4" fill="#111"/><circle cx="679.42" cy="520.4" r="3.7" fill="#12996a" fill-opacity="0.75"/><circle cx="679.42" cy="520.4" r="3.0" fill="#000"/>
<rect x="399.7" y="339.7" width="290.2" height="261.6" fill="none" stroke="#666" stroke-width="1.35"/>
<line x1="440.4" y1="601.3" x2="440.4" y2="606.9" stroke="#666" stroke-width="1.35"/>
<text x="440.4" y="622.2" class="t" text-anchor="middle" style="font-size:9.65px">0.2</text>
<line x1="500.2" y1="601.3" x2="500.2" y2="606.9" stroke="#666" stroke-width="1.35"/>
<text x="500.2" y="622.2" class="t" text-anchor="middle" style="font-size:9.65px">0.4</text>
<line x1="559.9" y1="601.3" x2="559.9" y2="606.9" stroke="#666" stroke-width="1.35"/>
<text x="559.9" y="622.2" class="t" text-anchor="middle" style="font-size:9.65px">0.6</text>
<line x1="619.7" y1="601.3" x2="619.7" y2="606.9" stroke="#666" stroke-width="1.35"/>
<text x="619.7" y="622.2" class="t" text-anchor="middle" style="font-size:9.65px">0.8</text>
<line x1="679.4" y1="601.3" x2="679.4" y2="606.9" stroke="#666" stroke-width="1.35"/>
<text x="679.4" y="622.2" class="t" text-anchor="middle" style="font-size:9.65px">1.0</text>
<line x1="393.9" y1="591.7" x2="399.7" y2="591.7" stroke="#666" stroke-width="1.35"/>
<text transform="translate(386.5,591.7) rotate(-90)" class="t" text-anchor="middle" style="font-size:9.65px">2</text>
<line x1="393.9" y1="567.48" x2="399.7" y2="567.48" stroke="#666" stroke-width="1.35"/>
<text transform="translate(386.5,567.48) rotate(-90)" class="t" text-anchor="middle" style="font-size:9.65px">3</text>
<line x1="393.9" y1="543.26" x2="399.7" y2="543.26" stroke="#666" stroke-width="1.35"/>
<text transform="translate(386.5,543.26) rotate(-90)" class="t" text-anchor="middle" style="font-size:9.65px">4</text>
<line x1="393.9" y1="519.04" x2="399.7" y2="519.04" stroke="#666" stroke-width="1.35"/>
<text transform="translate(386.5,519.04) rotate(-90)" class="t" text-anchor="middle" style="font-size:9.65px">5</text>
<line x1="393.9" y1="494.82" x2="399.7" y2="494.82" stroke="#666" stroke-width="1.35"/>
<text transform="translate(386.5,494.82) rotate(-90)" class="t" text-anchor="middle" style="font-size:9.65px">6</text>
<line x1="393.9" y1="470.6" x2="399.7" y2="470.6" stroke="#666" stroke-width="1.35"/>
<text transform="translate(386.5,470.6) rotate(-90)" class="t" text-anchor="middle" style="font-size:9.65px">7</text>
<line x1="393.9" y1="446.38" x2="399.7" y2="446.38" stroke="#666" stroke-width="1.35"/>
<text transform="translate(386.5,446.38) rotate(-90)" class="t" text-anchor="middle" style="font-size:9.65px">8</text>
<line x1="393.9" y1="422.16" x2="399.7" y2="422.16" stroke="#666" stroke-width="1.35"/>
<text transform="translate(386.5,422.16) rotate(-90)" class="t" text-anchor="middle" style="font-size:9.65px">9</text>
<line x1="393.9" y1="397.94" x2="399.7" y2="397.94" stroke="#666" stroke-width="1.35"/>
<text transform="translate(386.5,397.94) rotate(-90)" class="t" text-anchor="middle" style="font-size:9.65px">10</text>
<line x1="393.9" y1="373.72" x2="399.7" y2="373.72" stroke="#666" stroke-width="1.35"/>
<text transform="translate(386.5,373.72) rotate(-90)" class="t" text-anchor="middle" style="font-size:9.65px">11</text>
<line x1="393.9" y1="349.5" x2="399.7" y2="349.5" stroke="#666" stroke-width="1.35"/>
<text transform="translate(386.5,349.5) rotate(-90)" class="t" text-anchor="middle" style="font-size:9.65px">12</text>
<text x="544.8" y="643.8" class="t" text-anchor="middle" style="font-size:9.65px">λ</text>
<text transform="translate(364.5,470.5) rotate(-90)" class="t" text-anchor="middle" style="font-size:9.65px">CED</text>
<line x1="405.8" y1="350.3" x2="421.6" y2="350.3" stroke="#c8c8fa" stroke-width="1.1"/>
<text x="428.8" y="354.1" class="l" style="font-size:8.42px">MEWMA with <tspan dx="3.91" dy="1.8" style="font-size:4.4px;stroke-width:0.1px">0</tspan><tspan dy="-1.8">, z = 7, min = 2.86 at λ = 1.0</tspan></text>
<text transform="translate(481.25,354.1) scale(1.0,1)" class="l" style="font-size:7.4px">s</text>
<path d="M481.85 348.58L483.1 346.48L484.35 348.58" fill="none" stroke="#000" stroke-width="0.95"/>
<line x1="405.8" y1="361.3" x2="421.6" y2="361.3" stroke="#6464f5" stroke-width="1.1"/>
<text x="428.8" y="365.1" class="l" style="font-size:8.42px">MEWMA with <tspan dx="3.91" dy="1.8" style="font-size:4.4px;stroke-width:0.1px">0</tspan><tspan dy="-1.8">, z = 14, min = 3.33 at λ = 1.0</tspan></text>
<text transform="translate(481.25,365.1) scale(1.0,1)" class="l" style="font-size:7.4px">s</text>
<path d="M481.85 359.58L483.1 357.48L484.35 359.58" fill="none" stroke="#000" stroke-width="0.95"/>
<line x1="405.8" y1="372.9" x2="421.6" y2="372.9" stroke="#05f0c5" stroke-width="1.2" stroke-dasharray="3.3 3.1"/>
<text x="428.8" y="376.7" class="l" style="font-size:8.42px">MEWMA with <tspan dx="4.38" dy="1.8" style="font-size:4.4px;stroke-width:0.1px">1</tspan><tspan dy="-1.8">, z = 7, min = 4.30 at λ = 0.9</tspan></text>
<text transform="translate(481.76,376.7) scale(0.66,1)" class="l" style="font-size:8.6px">θ</text>
<path d="M482.09 368.51L483.34 366.41L484.59 368.51" fill="none" stroke="#000" stroke-width="0.95"/>
<line x1="405.8" y1="384" x2="421.6" y2="384" stroke="#12996a" stroke-width="1.2" stroke-dasharray="3.3 3.1"/>
<text x="428.8" y="387.8" class="l" style="font-size:8.42px">MEWMA with <tspan dx="4.38" dy="1.8" style="font-size:4.4px;stroke-width:0.1px">1</tspan><tspan dy="-1.8">, z = 14, min = 4.94 at λ = 1.0</tspan></text>
<text transform="translate(481.76,387.8) scale(0.66,1)" class="l" style="font-size:8.6px">θ</text>
<path d="M482.09 379.61L483.34 377.51L484.59 379.61" fill="none" stroke="#000" stroke-width="0.95"/>
<text x="445.6" y="671.9" class="c" style="font-weight:bold;font-size:20.8px">(d)</text>
<text x="476.5" y="673.3" class="c">MEWMA, Case B.2</text>
<polyline points="51.9,776.3 78.8,777.8 105.7,787.2 132.7,793.3 159.6,800 186.7,807.8 213.7,818.9 240.6,825.4 267.4,833.5 294.4,841.1 321.5,847.2" fill="none" stroke="#c2d0d0" stroke-width="2"/>
<circle cx="51.9" cy="776.3" r="3.7" fill="#c2d0d0"/>
<circle cx="78.8" cy="777.8" r="3.7" fill="#c2d0d0"/>
<circle cx="105.7" cy="787.2" r="3.7" fill="#c2d0d0"/>
<circle cx="132.7" cy="793.3" r="3.7" fill="#c2d0d0"/>
<circle cx="159.6" cy="800" r="3.7" fill="#c2d0d0"/>
<circle cx="186.7" cy="807.8" r="3.7" fill="#c2d0d0"/>
<circle cx="213.7" cy="818.9" r="3.7" fill="#c2d0d0"/>
<circle cx="240.6" cy="825.4" r="3.7" fill="#c2d0d0"/>
<circle cx="267.4" cy="833.5" r="3.7" fill="#c2d0d0"/>
<circle cx="294.4" cy="841.1" r="3.7" fill="#c2d0d0"/>
<circle cx="321.5" cy="847.2" r="3.7" fill="#c2d0d0"/>
<polyline points="51.9,733.8 78.8,744 105.7,744.9 132.7,759.1 159.6,770.9 186.7,776.5 213.7,780.9 240.6,791.5 267.4,803 294.4,811.7 321.5,816.9" fill="none" stroke="#7e8c8c" stroke-width="2"/>
<circle cx="51.9" cy="733.8" r="3.7" fill="#7e8c8c"/>
<circle cx="78.8" cy="744" r="3.7" fill="#7e8c8c"/>
<circle cx="105.7" cy="744.9" r="3.7" fill="#7e8c8c"/>
<circle cx="132.7" cy="759.1" r="3.7" fill="#7e8c8c"/>
<circle cx="159.6" cy="770.9" r="3.7" fill="#7e8c8c"/>
<circle cx="186.7" cy="776.5" r="3.7" fill="#7e8c8c"/>
<circle cx="213.7" cy="780.9" r="3.7" fill="#7e8c8c"/>
<circle cx="240.6" cy="791.5" r="3.7" fill="#7e8c8c"/>
<circle cx="267.4" cy="803" r="3.7" fill="#7e8c8c"/>
<circle cx="294.4" cy="811.7" r="3.7" fill="#7e8c8c"/>
<circle cx="321.5" cy="816.9" r="3.7" fill="#7e8c8c"/>
<polyline points="51.9,811.3 78.8,813.9 105.7,818.7 132.7,823.9 159.6,827.6 186.7,830.7 213.7,833 240.6,838.5 267.4,841.1 294.4,844.3 321.5,846.8" fill="none" stroke="#fcb813" stroke-width="2" stroke-dasharray="6 5"/>
<circle cx="51.9" cy="811.3" r="3.7" fill="#fcb813"/>
<circle cx="78.8" cy="813.9" r="3.7" fill="#fcb813"/>
<circle cx="105.7" cy="818.7" r="3.7" fill="#fcb813"/>
<circle cx="132.7" cy="823.9" r="3.7" fill="#fcb813"/>
<circle cx="159.6" cy="827.6" r="3.7" fill="#fcb813"/>
<circle cx="186.7" cy="830.7" r="3.7" fill="#fcb813"/>
<circle cx="213.7" cy="833" r="3.7" fill="#fcb813"/>
<circle cx="240.6" cy="838.5" r="3.7" fill="#fcb813"/>
<circle cx="267.4" cy="841.1" r="3.7" fill="#fcb813"/>
<circle cx="294.4" cy="844.3" r="3.7" fill="#fcb813"/>
<circle cx="321.5" cy="846.8" r="3.7" fill="#fcb813"/>
<polyline points="51.9,765 78.8,767.6 105.7,774.8 132.7,777.4 159.6,784.1 186.7,784.6 213.7,791.1 240.6,797 267.4,799.3 294.4,804.8 321.5,809.9" fill="none" stroke="#d39b15" stroke-width="2" stroke-dasharray="6 5"/>
<circle cx="51.9" cy="765" r="3.7" fill="#d39b15"/>
<circle cx="78.8" cy="767.6" r="3.7" fill="#d39b15"/>
<circle cx="105.7" cy="774.8" r="3.7" fill="#d39b15"/>
<circle cx="132.7" cy="777.4" r="3.7" fill="#d39b15"/>
<circle cx="159.6" cy="784.1" r="3.7" fill="#d39b15"/>
<circle cx="186.7" cy="784.6" r="3.7" fill="#d39b15"/>
<circle cx="213.7" cy="791.1" r="3.7" fill="#d39b15"/>
<circle cx="240.6" cy="797" r="3.7" fill="#d39b15"/>
<circle cx="267.4" cy="799.3" r="3.7" fill="#d39b15"/>
<circle cx="294.4" cy="804.8" r="3.7" fill="#d39b15"/>
<circle cx="321.5" cy="809.9" r="3.7" fill="#d39b15"/>
<circle cx="321.5" cy="847.2" r="4.4" fill="#111"/><circle cx="321.5" cy="847.2" r="3.7" fill="#c2d0d0" fill-opacity="0.75"/><circle cx="321.5" cy="847.2" r="3.0" fill="#000"/>
<circle cx="321.5" cy="816.9" r="4.4" fill="#111"/><circle cx="321.5" cy="816.9" r="3.7" fill="#7e8c8c" fill-opacity="0.75"/><circle cx="321.5" cy="816.9" r="3.0" fill="#000"/>
<circle cx="321.5" cy="846.8" r="4.4" fill="#111"/><circle cx="321.5" cy="846.8" r="3.7" fill="#fcb813" fill-opacity="0.75"/><circle cx="321.5" cy="846.8" r="3.0" fill="#000"/>
<circle cx="321.5" cy="809.9" r="4.4" fill="#111"/><circle cx="321.5" cy="809.9" r="3.7" fill="#d39b15" fill-opacity="0.75"/><circle cx="321.5" cy="809.9" r="3.0" fill="#000"/>
<rect x="41.3" y="683.2" width="291" height="257.9" fill="none" stroke="#666" stroke-width="1.35"/>
<line x1="78.9" y1="941.1" x2="78.9" y2="946.7" stroke="#666" stroke-width="1.35"/>
<text x="78.9" y="961" class="t" text-anchor="middle">0.6</text>
<line x1="132.8" y1="941.1" x2="132.8" y2="946.7" stroke="#666" stroke-width="1.35"/>
<text x="132.8" y="961" class="t" text-anchor="middle">0.8</text>
<line x1="186.7" y1="941.1" x2="186.7" y2="946.7" stroke="#666" stroke-width="1.35"/>
<text x="186.7" y="961" class="t" text-anchor="middle">1.0</text>
<line x1="240.6" y1="941.1" x2="240.6" y2="946.7" stroke="#666" stroke-width="1.35"/>
<text x="240.6" y="961" class="t" text-anchor="middle">1.2</text>
<line x1="294.5" y1="941.1" x2="294.5" y2="946.7" stroke="#666" stroke-width="1.35"/>
<text x="294.5" y="961" class="t" text-anchor="middle">1.4</text>
<line x1="35.5" y1="931.4" x2="41.3" y2="931.4" stroke="#666" stroke-width="1.35"/>
<text transform="translate(28.5,931.4) rotate(-90)" class="t" text-anchor="middle">1</text>
<line x1="35.5" y1="901.55" x2="41.3" y2="901.55" stroke="#666" stroke-width="1.35"/>
<text transform="translate(28.5,901.55) rotate(-90)" class="t" text-anchor="middle">2</text>
<line x1="35.5" y1="871.7" x2="41.3" y2="871.7" stroke="#666" stroke-width="1.35"/>
<text transform="translate(28.5,871.7) rotate(-90)" class="t" text-anchor="middle">3</text>
<line x1="35.5" y1="841.85" x2="41.3" y2="841.85" stroke="#666" stroke-width="1.35"/>
<text transform="translate(28.5,841.85) rotate(-90)" class="t" text-anchor="middle">4</text>
<line x1="35.5" y1="812" x2="41.3" y2="812" stroke="#666" stroke-width="1.35"/>
<text transform="translate(28.5,812) rotate(-90)" class="t" text-anchor="middle">5</text>
<line x1="35.5" y1="782.15" x2="41.3" y2="782.15" stroke="#666" stroke-width="1.35"/>
<text transform="translate(28.5,782.15) rotate(-90)" class="t" text-anchor="middle">6</text>
<line x1="35.5" y1="752.3" x2="41.3" y2="752.3" stroke="#666" stroke-width="1.35"/>
<text transform="translate(28.5,752.3) rotate(-90)" class="t" text-anchor="middle">7</text>
<line x1="35.5" y1="722.45" x2="41.3" y2="722.45" stroke="#666" stroke-width="1.35"/>
<text transform="translate(28.5,722.45) rotate(-90)" class="t" text-anchor="middle">8</text>
<line x1="35.5" y1="692.6" x2="41.3" y2="692.6" stroke="#666" stroke-width="1.35"/>
<text transform="translate(28.5,692.6) rotate(-90)" class="t" text-anchor="middle">9</text>
<text x="186.8" y="982.6" class="t" text-anchor="middle">k</text>
<text transform="translate(6.9,812.15) rotate(-90)" class="t" text-anchor="middle">CED</text>
<line x1="48" y1="900.2" x2="63.8" y2="900.2" stroke="#c2d0d0" stroke-width="1.1"/>
<text x="70.8" y="904" class="l" style="font-size:8.23px">MCUSUM with <tspan dx="3.82" dy="1.8" style="font-size:4.4px;stroke-width:0.1px">0</tspan><tspan dy="-1.8">, z = 7, min = 3.82 at k = 1.5</tspan></text>
<text transform="translate(127.05,904) scale(1.0,1)" class="l" style="font-size:7.4px">s</text>
<path d="M127.65 898.48L128.9 896.38L130.15 898.48" fill="none" stroke="#000" stroke-width="0.95"/>
<line x1="48" y1="911.2" x2="63.8" y2="911.2" stroke="#7e8c8c" stroke-width="1.1"/>
<text x="70.8" y="915" class="l" style="font-size:8.23px">MCUSUM with <tspan dx="3.82" dy="1.8" style="font-size:4.4px;stroke-width:0.1px">0</tspan><tspan dy="-1.8">, z = 14, min = 4.83 at k = 1.5</tspan></text>
<text transform="translate(127.05,915) scale(1.0,1)" class="l" style="font-size:7.4px">s</text>
<path d="M127.65 909.48L128.9 907.38L130.15 909.48" fill="none" stroke="#000" stroke-width="0.95"/>
<line x1="48" y1="922.6" x2="63.8" y2="922.6" stroke="#fcb813" stroke-width="1.2" stroke-dasharray="3.3 3.1"/>
<text x="70.8" y="926.4" class="l" style="font-size:8.23px">MCUSUM with <tspan dx="4.28" dy="1.8" style="font-size:4.4px;stroke-width:0.1px">1</tspan><tspan dy="-1.8">, z = 7, min = &#160;3.84 at k = 1.5</tspan></text>
<text transform="translate(127.55,926.4) scale(0.66,1)" class="l" style="font-size:8.6px">θ</text>
<path d="M127.88 918.21L129.13 916.11L130.38 918.21" fill="none" stroke="#000" stroke-width="0.95"/>
<line x1="48" y1="933.8" x2="63.8" y2="933.8" stroke="#d39b15" stroke-width="1.2" stroke-dasharray="3.3 3.1"/>
<text x="70.8" y="937.6" class="l" style="font-size:8.23px">MCUSUM with <tspan dx="4.28" dy="1.8" style="font-size:4.4px;stroke-width:0.1px">1</tspan><tspan dy="-1.8">, z = 14, min = 5.07 at k = 1.5</tspan></text>
<text transform="translate(127.55,937.6) scale(0.66,1)" class="l" style="font-size:8.6px">θ</text>
<path d="M127.88 929.41L129.13 927.31L130.38 929.41" fill="none" stroke="#000" stroke-width="0.95"/>
<text x="85.6" y="1015.4" class="c" style="font-weight:bold;font-size:20.8px">(e)</text>
<text x="114.7" y="1012.5" class="c">MCUSUM, Case B.3</text>
<polyline points="409.8,848.9 439.7,870.9 469.7,882.2 499.5,890.2 529.5,895.2 559.5,900.2 589.5,902.7 619.4,905.9 649.3,908.3 679.4,910.5" fill="none" stroke="#c8c8fa" stroke-width="2"/>
<circle cx="409.8" cy="848.9" r="2.4" fill="#c8c8fa"/>
<circle cx="439.7" cy="870.9" r="2.4" fill="#c8c8fa"/>
<circle cx="469.7" cy="882.2" r="2.4" fill="#c8c8fa"/>
<circle cx="499.5" cy="890.2" r="2.4" fill="#c8c8fa"/>
<circle cx="529.5" cy="895.2" r="2.4" fill="#c8c8fa"/>
<circle cx="559.5" cy="900.2" r="2.4" fill="#c8c8fa"/>
<circle cx="589.5" cy="902.7" r="2.4" fill="#c8c8fa"/>
<circle cx="619.4" cy="905.9" r="2.4" fill="#c8c8fa"/>
<circle cx="649.3" cy="908.3" r="2.4" fill="#c8c8fa"/>
<circle cx="679.4" cy="910.5" r="2.4" fill="#c8c8fa"/>
<polyline points="409.8,824.6 439.7,853.9 469.7,867.4 499.5,877.4 529.5,883.2 559.5,888.4 589.5,894.1 619.4,896.5 649.3,899 679.4,900.5" fill="none" stroke="#6464f5" stroke-width="2"/>
<circle cx="409.8" cy="824.6" r="3.7" fill="#6464f5"/>
<circle cx="439.7" cy="853.9" r="3.7" fill="#6464f5"/>
<circle cx="469.7" cy="867.4" r="3.7" fill="#6464f5"/>
<circle cx="499.5" cy="877.4" r="3.7" fill="#6464f5"/>
<circle cx="529.5" cy="883.2" r="3.7" fill="#6464f5"/>
<circle cx="559.5" cy="888.4" r="3.7" fill="#6464f5"/>
<circle cx="589.5" cy="894.1" r="3.7" fill="#6464f5"/>
<circle cx="619.4" cy="896.5" r="3.7" fill="#6464f5"/>
<circle cx="649.3" cy="899" r="3.7" fill="#6464f5"/>
<circle cx="679.4" cy="900.5" r="3.7" fill="#6464f5"/>
<polyline points="409.8,833.3 439.7,853.5 469.7,862.6 499.5,869.6 529.5,875 559.5,880 589.5,883 619.4,885.9 649.3,888.4 679.4,890.1" fill="none" stroke="#05f0c5" stroke-width="2" stroke-dasharray="6 5"/>
<circle cx="409.8" cy="833.3" r="3.7" fill="#05f0c5"/>
<circle cx="439.7" cy="853.5" r="3.7" fill="#05f0c5"/>
<circle cx="469.7" cy="862.6" r="3.7" fill="#05f0c5"/>
<circle cx="499.5" cy="869.6" r="3.7" fill="#05f0c5"/>
<circle cx="529.5" cy="875" r="3.7" fill="#05f0c5"/>
<circle cx="559.5" cy="880" r="3.7" fill="#05f0c5"/>
<circle cx="589.5" cy="883" r="3.7" fill="#05f0c5"/>
<circle cx="619.4" cy="885.9" r="3.7" fill="#05f0c5"/>
<circle cx="649.3" cy="888.4" r="3.7" fill="#05f0c5"/>
<circle cx="679.4" cy="890.1" r="3.7" fill="#05f0c5"/>
<polyline points="409.8,807.6 439.7,831.7 469.7,847 499.5,855.7 529.5,862.1 559.5,867.4 589.5,872.4 619.4,876.3 649.3,878.5 679.4,880.4" fill="none" stroke="#12996a" stroke-width="2" stroke-dasharray="6 5"/>
<circle cx="409.8" cy="807.6" r="3.7" fill="#12996a"/>
<circle cx="439.7" cy="831.7" r="3.7" fill="#12996a"/>
<circle cx="469.7" cy="847" r="3.7" fill="#12996a"/>
<circle cx="499.5" cy="855.7" r="3.7" fill="#12996a"/>
<circle cx="529.5" cy="862.1" r="3.7" fill="#12996a"/>
<circle cx="559.5" cy="867.4" r="3.7" fill="#12996a"/>
<circle cx="589.5" cy="872.4" r="3.7" fill="#12996a"/>
<circle cx="619.4" cy="876.3" r="3.7" fill="#12996a"/>
<circle cx="649.3" cy="878.5" r="3.7" fill="#12996a"/>
<circle cx="679.4" cy="880.4" r="3.7" fill="#12996a"/>
<circle cx="679.4" cy="910.5" r="4.4" fill="#111"/><circle cx="679.4" cy="910.5" r="3.7" fill="#c8c8fa" fill-opacity="0.75"/><circle cx="679.4" cy="910.5" r="3.0" fill="#000"/>
<circle cx="679.4" cy="900.5" r="4.4" fill="#111"/><circle cx="679.4" cy="900.5" r="3.7" fill="#6464f5" fill-opacity="0.75"/><circle cx="679.4" cy="900.5" r="3.0" fill="#000"/>
<circle cx="679.4" cy="890.1" r="4.4" fill="#111"/><circle cx="679.4" cy="890.1" r="3.7" fill="#05f0c5" fill-opacity="0.75"/><circle cx="679.4" cy="890.1" r="3.0" fill="#000"/>
<circle cx="679.4" cy="880.4" r="4.4" fill="#111"/><circle cx="679.4" cy="880.4" r="3.7" fill="#12996a" fill-opacity="0.75"/><circle cx="679.4" cy="880.4" r="3.0" fill="#000"/>
<rect x="399.4" y="683.5" width="290.5" height="257.7" fill="none" stroke="#666" stroke-width="1.35"/>
<line x1="439.7" y1="941.2" x2="439.7" y2="946.8" stroke="#666" stroke-width="1.35"/>
<text x="439.7" y="961" class="t" text-anchor="middle">0.2</text>
<line x1="499.6" y1="941.2" x2="499.6" y2="946.8" stroke="#666" stroke-width="1.35"/>
<text x="499.6" y="961" class="t" text-anchor="middle">0.4</text>
<line x1="559.5" y1="941.2" x2="559.5" y2="946.8" stroke="#666" stroke-width="1.35"/>
<text x="559.5" y="961" class="t" text-anchor="middle">0.6</text>
<line x1="619.5" y1="941.2" x2="619.5" y2="946.8" stroke="#666" stroke-width="1.35"/>
<text x="619.5" y="961" class="t" text-anchor="middle">0.8</text>
<line x1="679.4" y1="941.2" x2="679.4" y2="946.8" stroke="#666" stroke-width="1.35"/>
<text x="679.4" y="961" class="t" text-anchor="middle">1.0</text>
<line x1="393.6" y1="931.4" x2="399.4" y2="931.4" stroke="#666" stroke-width="1.35"/>
<text transform="translate(386,931.4) rotate(-90)" class="t" text-anchor="middle">1</text>
<line x1="393.6" y1="901.55" x2="399.4" y2="901.55" stroke="#666" stroke-width="1.35"/>
<text transform="translate(386,901.55) rotate(-90)" class="t" text-anchor="middle">2</text>
<line x1="393.6" y1="871.7" x2="399.4" y2="871.7" stroke="#666" stroke-width="1.35"/>
<text transform="translate(386,871.7) rotate(-90)" class="t" text-anchor="middle">3</text>
<line x1="393.6" y1="841.85" x2="399.4" y2="841.85" stroke="#666" stroke-width="1.35"/>
<text transform="translate(386,841.85) rotate(-90)" class="t" text-anchor="middle">4</text>
<line x1="393.6" y1="812" x2="399.4" y2="812" stroke="#666" stroke-width="1.35"/>
<text transform="translate(386,812) rotate(-90)" class="t" text-anchor="middle">5</text>
<line x1="393.6" y1="782.15" x2="399.4" y2="782.15" stroke="#666" stroke-width="1.35"/>
<text transform="translate(386,782.15) rotate(-90)" class="t" text-anchor="middle">6</text>
<line x1="393.6" y1="752.3" x2="399.4" y2="752.3" stroke="#666" stroke-width="1.35"/>
<text transform="translate(386,752.3) rotate(-90)" class="t" text-anchor="middle">7</text>
<line x1="393.6" y1="722.45" x2="399.4" y2="722.45" stroke="#666" stroke-width="1.35"/>
<text transform="translate(386,722.45) rotate(-90)" class="t" text-anchor="middle">8</text>
<line x1="393.6" y1="692.6" x2="399.4" y2="692.6" stroke="#666" stroke-width="1.35"/>
<text transform="translate(386,692.6) rotate(-90)" class="t" text-anchor="middle">9</text>
<text x="544.65" y="982.6" class="t" text-anchor="middle">λ</text>
<text transform="translate(364.5,812.35) rotate(-90)" class="t" text-anchor="middle">CED</text>
<line x1="404.8" y1="691.9" x2="420.6" y2="691.9" stroke="#c8c8fa" stroke-width="1.1"/>
<text x="427.6" y="695.7" class="l" style="font-size:8.27px">MEWMA with <tspan dx="3.83" dy="1.8" style="font-size:4.4px;stroke-width:0.1px">0</tspan><tspan dy="-1.8">, z = 7, min = 1.70 at λ = 1.0</tspan></text>
<text transform="translate(479.08,695.7) scale(1.0,1)" class="l" style="font-size:7.4px">s</text>
<path d="M479.68 690.18L480.93 688.08L482.18 690.18" fill="none" stroke="#000" stroke-width="0.95"/>
<line x1="404.8" y1="703" x2="420.6" y2="703" stroke="#6464f5" stroke-width="1.1"/>
<text x="427.6" y="706.8" class="l" style="font-size:8.27px">MEWMA with <tspan dx="3.83" dy="1.8" style="font-size:4.4px;stroke-width:0.1px">0</tspan><tspan dy="-1.8">, z = 14, min = 2.04 at λ = 1.0</tspan></text>
<text transform="translate(479.08,706.8) scale(1.0,1)" class="l" style="font-size:7.4px">s</text>
<path d="M479.68 701.28L480.93 699.18L482.18 701.28" fill="none" stroke="#000" stroke-width="0.95"/>
<line x1="404.8" y1="714.1" x2="420.6" y2="714.1" stroke="#05f0c5" stroke-width="1.2" stroke-dasharray="3.3 3.1"/>
<text x="427.6" y="717.9" class="l" style="font-size:8.27px">MEWMA with <tspan dx="4.3" dy="1.8" style="font-size:4.4px;stroke-width:0.1px">1</tspan><tspan dy="-1.8">, z = 7, min = 2.38 at λ = 1.0</tspan></text>
<text transform="translate(479.58,717.9) scale(0.66,1)" class="l" style="font-size:8.6px">θ</text>
<path d="M479.91 709.71L481.16 707.61L482.41 709.71" fill="none" stroke="#000" stroke-width="0.95"/>
<line x1="404.8" y1="725" x2="420.6" y2="725" stroke="#12996a" stroke-width="1.2" stroke-dasharray="3.3 3.1"/>
<text x="427.6" y="728.8" class="l" style="font-size:8.27px">MEWMA with <tspan dx="4.3" dy="1.8" style="font-size:4.4px;stroke-width:0.1px">1</tspan><tspan dy="-1.8">, z = 14, min = 2.71 at λ = 1.0</tspan></text>
<text transform="translate(479.58,728.8) scale(0.66,1)" class="l" style="font-size:8.6px">θ</text>
<path d="M479.91 720.61L481.16 718.51L482.41 720.61" fill="none" stroke="#000" stroke-width="0.95"/>
<text x="445.6" y="1015.4" class="c" style="font-weight:bold;font-size:20.8px">(f)</text>
<text x="475.2" y="1012.5" class="c">MEWMA, Case B.3</text>
</svg>
</body></html>
